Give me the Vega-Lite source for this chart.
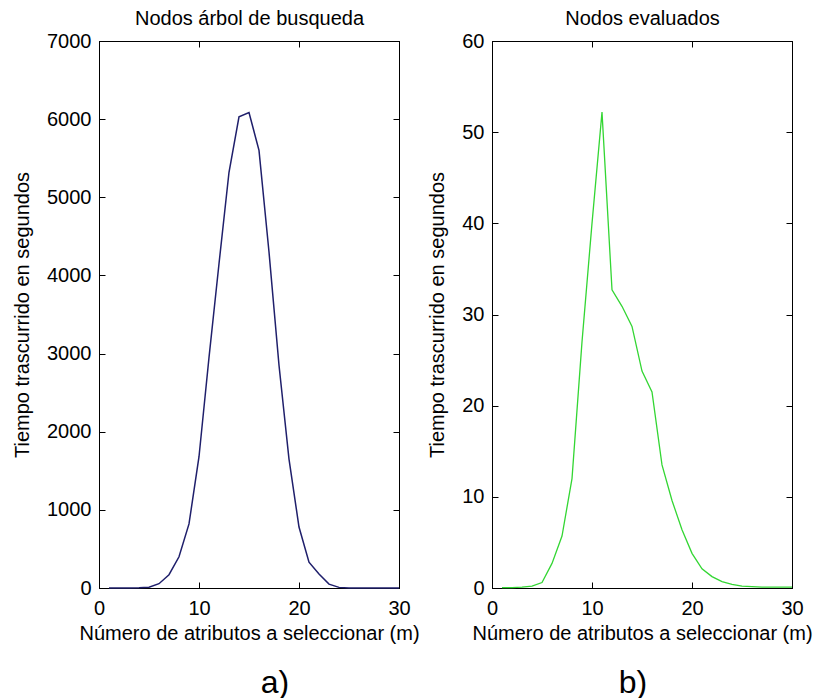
{
  "$schema": "https://vega.github.io/schema/vega-lite/v6.json",
  "background": "white",
  "padding": {"left": 12, "top": 8, "right": 0, "bottom": 0},
  "bounds": "flush",
  "spacing": 93,
  "config": {
    "font": "Liberation Sans",
    "view": {"stroke": "black", "strokeWidth": 1},
    "axis": {
      "grid": false,
      "domainColor": "black",
      "tickColor": "black",
      "labelColor": "black",
      "titleColor": "black",
      "labelFont": "Liberation Sans",
      "titleFont": "Liberation Sans",
      "labelFontSize": 20,
      "titleFontSize": 20,
      "titleFontWeight": "normal",
      "labelFlush": false,
      "labelOverlap": false,
      "tickSize": -6,
      "format": "d"
    }
  },
  "datasets": {
    "tree": [
      {"m": 1, "t": 0}, {"m": 2, "t": 0}, {"m": 3, "t": 0}, {"m": 4, "t": 2}, {"m": 5, "t": 10},
      {"m": 6, "t": 55}, {"m": 7, "t": 170}, {"m": 8, "t": 400}, {"m": 9, "t": 820}, {"m": 10, "t": 1680},
      {"m": 11, "t": 2950}, {"m": 12, "t": 4150}, {"m": 13, "t": 5320}, {"m": 14, "t": 6030}, {"m": 15, "t": 6085},
      {"m": 16, "t": 5600}, {"m": 17, "t": 4300}, {"m": 18, "t": 2850}, {"m": 19, "t": 1650}, {"m": 20, "t": 780},
      {"m": 21, "t": 330}, {"m": 22, "t": 180}, {"m": 23, "t": 50}, {"m": 24, "t": 8}, {"m": 25, "t": 1},
      {"m": 26, "t": 0}, {"m": 27, "t": 0}, {"m": 28, "t": 0}, {"m": 29, "t": 0}, {"m": 30, "t": 0}
    ],
    "evaluated": [
      {"m": 1, "t": 0.05}, {"m": 2, "t": 0.05}, {"m": 3, "t": 0.1}, {"m": 4, "t": 0.2}, {"m": 5, "t": 0.6},
      {"m": 6, "t": 2.7}, {"m": 7, "t": 5.7}, {"m": 8, "t": 12}, {"m": 9, "t": 27}, {"m": 10, "t": 40},
      {"m": 11, "t": 52.2}, {"m": 12, "t": 32.7}, {"m": 13, "t": 30.9}, {"m": 14, "t": 28.7}, {"m": 15, "t": 23.8},
      {"m": 16, "t": 21.5}, {"m": 17, "t": 13.5}, {"m": 18, "t": 9.6}, {"m": 19, "t": 6.4}, {"m": 20, "t": 3.8},
      {"m": 21, "t": 2.1}, {"m": 22, "t": 1.25}, {"m": 23, "t": 0.7}, {"m": 24, "t": 0.4}, {"m": 25, "t": 0.2},
      {"m": 26, "t": 0.15}, {"m": 27, "t": 0.1}, {"m": 28, "t": 0.1}, {"m": 29, "t": 0.1}, {"m": 30, "t": 0.1}
    ]
  },
  "hconcat": [
    {
      "width": 300,
      "height": 547,
      "data": {"name": "tree"},
      "title": {"text": "a)", "orient": "bottom", "anchor": "middle", "frame": "group", "dx": 26, "offset": 25, "fontSize": 32, "font": "Liberation Sans", "fontWeight": "normal", "color": "black"},
      "layer": [
        {
          "mark": {"type": "line", "color": "#1f1f6b", "strokeWidth": 1.5},
          "encoding": {
            "x": {"field": "m", "type": "quantitative", "scale": {"domain": [0, 30], "nice": false},
                  "axis": {"title": "Número de atributos a seleccionar (m)", "values": [0, 10, 20, 30], "labelPadding": 16, "titlePadding": 5}},
            "y": {"field": "t", "type": "quantitative", "scale": {"domain": [0, 7000], "nice": false},
                  "axis": {"title": "Tiempo trascurrido en segundos", "values": [0, 1000, 2000, 3000, 4000, 5000, 6000, 7000], "labelPadding": 14, "titlePadding": 14}}
          }
        },
        {
          "mark": {"type": "line", "strokeOpacity": 0},
          "encoding": {
            "x": {"field": "m", "type": "quantitative", "scale": {"domain": [0, 30], "nice": false},
                  "axis": {"orient": "top", "title": "Nodos árbol de busqueda", "labels": false, "values": [0, 10, 20, 30], "titlePadding": 12}},
            "y": {"field": "t", "type": "quantitative", "scale": {"domain": [0, 7000], "nice": false},
                  "axis": {"orient": "right", "title": null, "labels": false, "values": [0, 1000, 2000, 3000, 4000, 5000, 6000, 7000]}}
          }
        }
      ],
      "resolve": {"axis": {"x": "independent", "y": "independent"}}
    },
    {
      "width": 300,
      "height": 547,
      "data": {"name": "evaluated"},
      "title": {"text": "b)", "orient": "bottom", "anchor": "middle", "frame": "group", "dx": -9, "offset": 25, "fontSize": 32, "font": "Liberation Sans", "fontWeight": "normal", "color": "black"},
      "layer": [
        {
          "mark": {"type": "line", "color": "#33d633", "strokeWidth": 1.3},
          "encoding": {
            "x": {"field": "m", "type": "quantitative", "scale": {"domain": [0, 30], "nice": false},
                  "axis": {"title": "Número de atributos a seleccionar (m)", "values": [0, 10, 20, 30], "labelPadding": 16, "titlePadding": 5}},
            "y": {"field": "t", "type": "quantitative", "scale": {"domain": [0, 60], "nice": false},
                  "axis": {"title": "Tiempo trascurrido en segundos", "values": [0, 10, 20, 30, 40, 50, 60], "labelPadding": 14, "titlePadding": 14}}
          }
        },
        {
          "mark": {"type": "line", "strokeOpacity": 0},
          "encoding": {
            "x": {"field": "m", "type": "quantitative", "scale": {"domain": [0, 30], "nice": false},
                  "axis": {"orient": "top", "title": "Nodos evaluados", "labels": false, "values": [0, 10, 20, 30], "titlePadding": 12}},
            "y": {"field": "t", "type": "quantitative", "scale": {"domain": [0, 60], "nice": false},
                  "axis": {"orient": "right", "title": null, "labels": false, "values": [0, 10, 20, 30, 40, 50, 60]}}
          }
        }
      ],
      "resolve": {"axis": {"x": "independent", "y": "independent"}}
    }
  ]
}
